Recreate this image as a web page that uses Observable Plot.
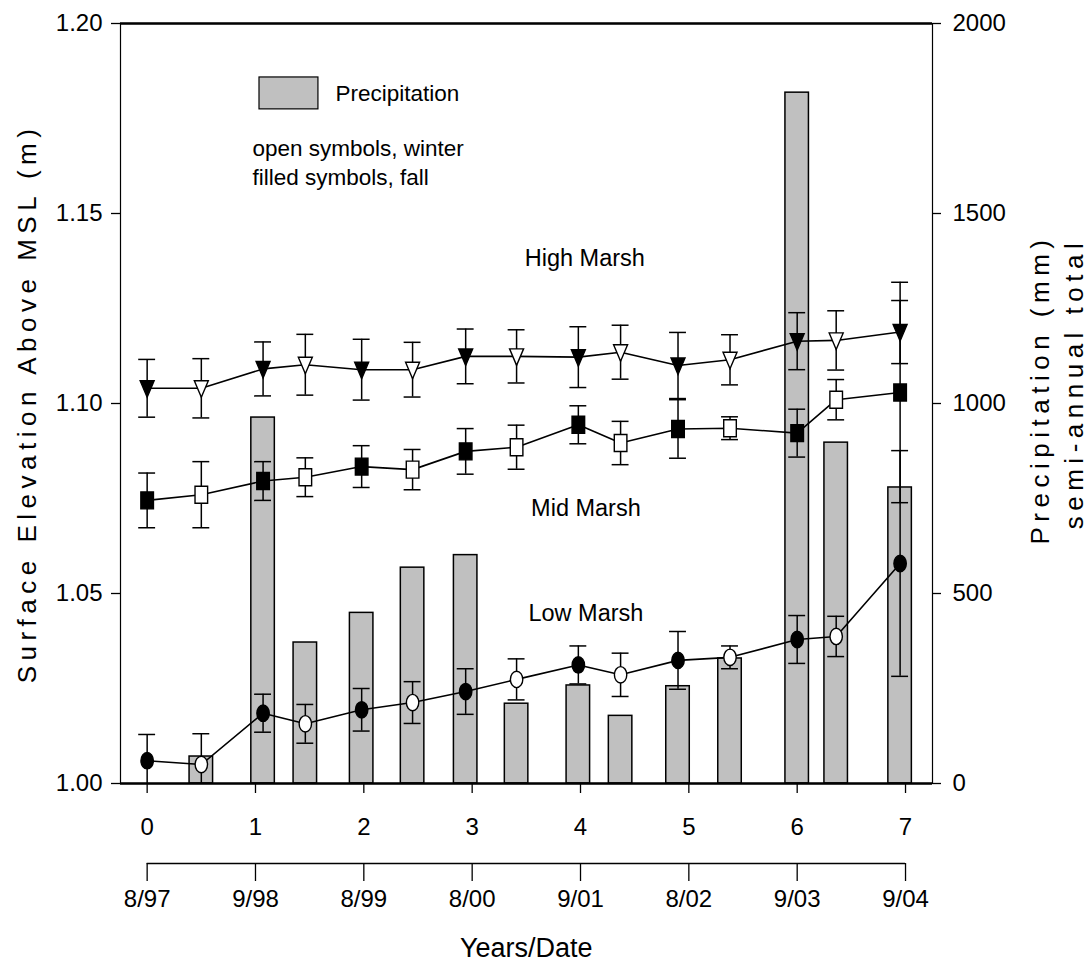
<!DOCTYPE html>
<html>
<head>
<meta charset="utf-8">
<script src="https://cdn.jsdelivr.net/npm/d3@7"></script>
<script src="https://cdn.jsdelivr.net/npm/@observablehq/plot@0.6"></script>
<style>
  html, body { margin: 0; padding: 0; background: #fff; }
  #chart svg { display: block; }
</style>
</head>
<body>
<div id="chart"></div>
<script>
// Sampling dates, in years since 8/97 (fall and winter surveys alternate)
const years = [0, 0.5, 1.07, 1.46, 1.98, 2.45, 2.94, 3.41, 3.98, 4.37, 4.9, 5.38, 6.0, 6.36, 6.95];
const seasons = ["fall", "winter", "fall", "winter", "fall", "winter", "fall", "winter",
                 "fall", "winter", "fall", "winter", "fall", "winter", "fall"];

// Mean surface elevation (m above MSL) and standard error per marsh zone
const highMarsh   = [1.1040, 1.1040, 1.1091, 1.1102, 1.1089, 1.1089, 1.1124, 1.1124, 1.1122, 1.1135, 1.1100, 1.1115, 1.1164, 1.1166, 1.1188];
const highMarshSE = [0.0076, 0.0078, 0.0071, 0.0080, 0.0080, 0.0072, 0.0072, 0.0070, 0.0080, 0.0071, 0.0087, 0.0066, 0.0075, 0.0078, 0.0083];
const midMarsh    = [1.0745, 1.0760, 1.0796, 1.0806, 1.0834, 1.0826, 1.0874, 1.0885, 1.0944, 1.0896, 1.0933, 1.0935, 1.0922, 1.1010, 1.1029];
const midMarshSE  = [0.0072, 0.0087, 0.0051, 0.0051, 0.0055, 0.0053, 0.0060, 0.0058, 0.0050, 0.0057, 0.0077, 0.0030, 0.0063, 0.0053, 0.0290];
const lowMarsh    = [1.0060, 1.0050, 1.0185, 1.0157, 1.0194, 1.0213, 1.0242, 1.0274, 1.0312, 1.0286, 1.0324, 1.0332, 1.0379, 1.0387, 1.0579];
const lowMarshSE  = [0.0069, 0.0081, 0.0050, 0.0051, 0.0056, 0.0055, 0.0060, 0.0054, 0.0050, 0.0057, 0.0076, 0.0030, 0.0063, 0.0053, 0.0297];

// Semi-annual precipitation totals (mm)
const precipYears   = [0.5, 1.07, 1.46, 1.98, 2.45, 2.94, 3.41, 3.98, 4.37, 4.9, 5.38, 6.0, 6.36, 6.95];
const precipitation = [71, 963, 371, 449, 568, 601, 210, 258, 178, 256, 329, 1818, 897, 779];

// Axis ticks
const yearTicks   = [0, 1, 2, 3, 4, 5, 6, 7];
const dateLabels  = ["8/97", "9/98", "8/99", "8/00", "9/01", "8/02", "9/03", "9/04"];
const elevTicks   = [1.00, 1.05, 1.10, 1.15, 1.20];
const precipTicks = [0, 500, 1000, 1500, 2000];

// Axis titles
const elevTitle = "Surface Elevation Above MSL (m)";
const precipTitle = "Precipitation (mm)";
const precipSubtitle = "semi-annual total";

// Zone labels and the in-plot key
const zoneNames = ["High Marsh", "Mid Marsh", "Low Marsh"];
const zoneLabelX = [4.04, 4.05, 4.05];
const zoneLabelY = [1.1382, 1.0724, 1.0447];
const keyLines = ["open symbols, winter", "filled symbols, fall"];

// Precipitation shares the elevation axis: 2000 mm spans 1.00 – 1.20 m
const mmToElev = (mm) => 1 + mm / 10000;
const elevToMm = (e) => String(Math.round((e - 1) * 10000));

const BAR_HALF = 0.1085;  // half bar width, in years
const CAP_HALF = 0.078;   // half error-bar cap width, in years

// Tidy rows for every survey
const rows = [];
[["high", highMarsh, highMarshSE], ["mid", midMarsh, midMarshSE], ["low", lowMarsh, lowMarshSE]]
  .forEach(([marsh, vals, se]) => {
    vals.forEach((v, i) => rows.push({
      marsh, season: seasons[i], x: years[i], y: v, lo: v - se[i], hi: v + se[i]
    }));
  });
const bars = precipYears.map((x, i) => ({x, mm: precipitation[i]}));

// Marker shapes (slightly taller than wide)
const ellipse = {
  draw(ctx) {
    const rx = 6.2, ry = 8.2, k = 0.5523;
    ctx.moveTo(rx, 0);
    ctx.bezierCurveTo(rx, ry * k, rx * k, ry, 0, ry);
    ctx.bezierCurveTo(-rx * k, ry, -rx, ry * k, -rx, 0);
    ctx.bezierCurveTo(-rx, -ry * k, -rx * k, -ry, 0, -ry);
    ctx.bezierCurveTo(rx * k, -ry, rx, -ry * k, rx, 0);
    ctx.closePath();
  }
};
const box = {
  draw(ctx) {
    const hx = 6.3, hy = 8.5;
    ctx.moveTo(-hx, -hy); ctx.lineTo(hx, -hy); ctx.lineTo(hx, hy); ctx.lineTo(-hx, hy);
    ctx.closePath();
  }
};
const triDown = {
  draw(ctx) {
    ctx.moveTo(-7, -7.5); ctx.lineTo(7, -7.5); ctx.lineTo(0, 9);
    ctx.closePath();
  }
};
const shapes = {high: triDown, mid: box, low: ellipse};

const markerMarks = [];
for (const marsh of ["high", "mid", "low"]) {
  for (const season of ["winter", "fall"]) {
    markerMarks.push(Plot.dot(rows.filter(d => d.marsh === marsh && d.season === season), {
      x: "x", y: "y", symbol: shapes[marsh],
      fill: season === "fall" ? "black" : "white",
      stroke: "black", strokeWidth: 1.4
    }));
  }
}

const FONT = '"Liberation Sans", Arial, Helvetica, sans-serif';

const chart = Plot.plot({
  width: 1091,
  height: 968,
  marginLeft: 120,
  marginRight: 159,
  marginTop: 23,
  marginBottom: 185,
  x: {domain: [-0.246, 7.249]},
  y: {domain: [1, 1.2]},
  style: {fontFamily: FONT, fontSize: "24px", color: "black", background: "white"},
  marks: [
    // precipitation bars
    Plot.rect(bars, {
      x1: d => d.x - BAR_HALF, x2: d => d.x + BAR_HALF,
      y1: 1, y2: d => mmToElev(d.mm),
      fill: "#c0c0c0", stroke: "black", strokeWidth: 1.5
    }),

    // plot frame: thin sides, heavier top and bottom
    Plot.frame({stroke: "black", strokeWidth: 1.2}),
    Plot.ruleY([1.0, 1.2], {stroke: "black", strokeWidth: 2.4}),

    // elevation axis (left) and precipitation axis (right)
    Plot.axisY(elevTicks, {
      anchor: "left", tickSize: 9, tickPadding: 9, tickFormat: d3.format(".2f"),
      fontSize: 24, label: null, strokeWidth: 1.3
    }),
    Plot.axisY(precipTicks.map(mmToElev), {
      anchor: "right", tickSize: 8, tickPadding: 12, tickFormat: elevToMm,
      fontSize: 24, label: null, strokeWidth: 1.3
    }),

    // years axis
    Plot.axisX(yearTicks, {
      anchor: "bottom", tickSize: 10, tickPadding: 24, tickFormat: d => String(d),
      fontSize: 24, label: null, strokeWidth: 1.3
    }),
    // survey-date axis beneath it
    Plot.ruleY([1.0], {x1: yearTicks[0], x2: yearTicks[yearTicks.length - 1], dy: 80, stroke: "black", strokeWidth: 1.3}),
    Plot.axisX(yearTicks, {
      anchor: "bottom", dy: 80, tickSize: 18, tickPadding: 8, tickFormat: (d, i) => dateLabels[i],
      fontSize: 24, label: null, strokeWidth: 1.3
    }),
    Plot.text(["Years/Date"], {
      x: 3.5, frameAnchor: "bottom", dy: 165, lineAnchor: "middle", fontSize: 27
    }),

    // axis titles
    Plot.text([elevTitle], {
      frameAnchor: "left", dx: -93, rotate: -90, textAnchor: "middle", lineAnchor: "middle", fontSize: 26
    }),
    Plot.text([precipTitle], {
      frameAnchor: "right", dx: 108, dy: -14, rotate: -90, textAnchor: "middle", lineAnchor: "middle", fontSize: 26
    }),
    Plot.text([precipSubtitle], {
      frameAnchor: "right", dx: 142, dy: -20, rotate: -90, textAnchor: "middle", lineAnchor: "middle", fontSize: 26
    }),

    // connecting lines
    Plot.line(rows, {x: "x", y: "y", z: "marsh", stroke: "black", strokeWidth: 1.6}),

    // error bars with caps
    Plot.ruleX(rows, {x: "x", y1: "lo", y2: "hi", stroke: "black", strokeWidth: 1.5, clip: true}),
    Plot.ruleY(rows, {y: "hi", x1: d => d.x - CAP_HALF, x2: d => d.x + CAP_HALF, stroke: "black", strokeWidth: 1.5, clip: true}),
    Plot.ruleY(rows, {y: "lo", x1: d => d.x - CAP_HALF, x2: d => d.x + CAP_HALF, stroke: "black", strokeWidth: 1.5, clip: true}),

    // markers
    ...markerMarks,

    // zone labels
    Plot.text(zoneNames, {
      x: (d, i) => zoneLabelX[i], y: (d, i) => zoneLabelY[i], text: d => d,
      fontSize: 23.5, lineAnchor: "middle"
    }),

    // key
    Plot.rect([0], {x1: 1.037, x2: 1.581, y1: 1.1774, y2: 1.1858, fill: "#c0c0c0", stroke: "black", strokeWidth: 1.2}),
    Plot.text(["Precipitation"], {x: 1.738, y: 1.1816, textAnchor: "start", lineAnchor: "middle", fontSize: 22.5}),
    Plot.text(keyLines, {
      x: 0.972, y: (d, i) => [1.1671, 1.1595][i], text: d => d,
      textAnchor: "start", lineAnchor: "middle", fontSize: 22.5
    })
  ]
});

// Spaced lettering on the axis titles
const spaced = [elevTitle, precipTitle, precipSubtitle];
d3.select(chart).selectAll("text")
  .filter(function () { return spaced.includes(this.textContent); })
  .style("letter-spacing", "5.5px");

document.getElementById("chart").appendChild(chart);
</script>
</body>
</html>
